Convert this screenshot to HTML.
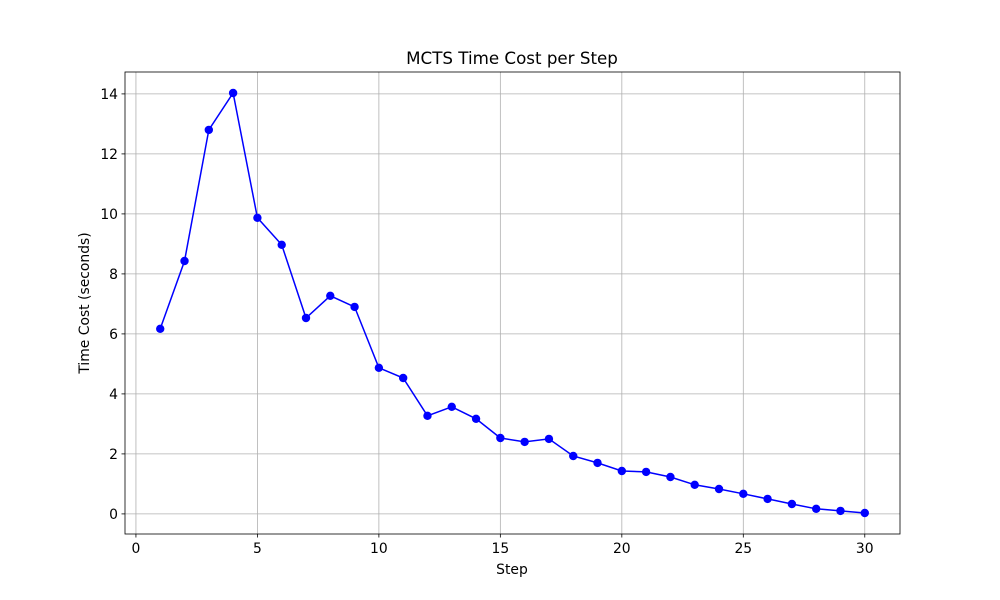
<!DOCTYPE html>
<html><head><meta charset="utf-8"><style>
body{margin:0;background:#fff;}
svg{display:block;font-family:"DejaVu Sans","Liberation Sans",sans-serif;}
</style></head><body>
<svg id="chart" width="1000" height="600" viewBox="0 0 1000 600">
<rect width="1000" height="600" fill="#fff"/>
<g id="grid"></g>
<g id="axes"></g>
<g id="series"></g>
<text x="512" y="64" text-anchor="middle" font-size="16.7">MCTS Time Cost per Step</text>
<text x="512" y="574" text-anchor="middle" font-size="13.9">Step</text>
<text transform="translate(89,303) rotate(-90)" text-anchor="middle" font-size="13.9">Time Cost (seconds)</text>
</svg>
<script>
const steps=[1,2,3,4,5,6,7,8,9,10,11,12,13,14,15,16,17,18,19,20,21,22,23,24,25,26,27,28,29,30];
const times=[6.17,8.43,12.8,14.03,9.87,8.97,6.53,7.27,6.9,4.87,4.53,3.27,3.57,3.17,2.53,2.4,2.5,1.93,1.7,1.43,1.4,1.23,0.97,0.83,0.67,0.5,0.33,0.17,0.1,0.03];
const xTicks=[0,5,10,15,20,25,30];
const yTicks=[0,2,4,6,8,10,12,14];
const NS='http://www.w3.org/2000/svg';
const L=125,R=900,T=72,B=534;
const xmin=Math.min(...steps),xmax=Math.max(...steps),xm=(xmax-xmin)*0.05;
const ymin=Math.min(...times),ymax=Math.max(...times),ym=(ymax-ymin)*0.05;
const X=v=>L+(v-(xmin-xm))/((xmax+xm)-(xmin-xm))*(R-L);
const Y=v=>B-(v-(ymin-ym))/((ymax+ym)-(ymin-ym))*(B-T);
function mk(tag,attrs,parent){const e=document.createElementNS(NS,tag);for(const k in attrs)e.setAttribute(k,attrs[k]);parent.appendChild(e);return e;}
const grid=document.getElementById('grid'),axes=document.getElementById('axes'),series=document.getElementById('series');
xTicks.forEach(t=>{const x=X(t);
 const g=mk('line',{x1:x,x2:x,y1:T,y2:B,stroke:'#b0b0b0','stroke-width':0.8},grid);
 
 mk('line',{x1:x,x2:x,y1:B,y2:B+3.5,stroke:'#000','stroke-width':0.8},axes);
 const tx=mk('text',{x:x,y:B+19,'text-anchor':'middle','font-size':13.9},axes);tx.textContent=t;
 });
yTicks.forEach(t=>{const y=Y(t);
 const g=mk('line',{x1:L,x2:R,y1:y,y2:y,stroke:'#b0b0b0','stroke-width':0.8},grid);
 
 mk('line',{x1:L-3.5,x2:L,y1:y,y2:y,stroke:'#000','stroke-width':0.8},axes);
 const tx=mk('text',{x:L-7,y:y+5,'text-anchor':'end','font-size':13.9},axes);tx.textContent=t;
 });
const frame=mk('rect',{x:L,y:T,width:R-L,height:B-T,fill:'none',stroke:'#000','stroke-width':0.8},axes);

const pl=mk('polyline',{points:steps.map((s,i)=>X(s)+','+Y(times[i])).join(' '),fill:'none',stroke:'#0000ff','stroke-width':1.5},series);

steps.forEach((s,i)=>{const c=mk('circle',{cx:X(s),cy:Y(times[i]),r:4.2,fill:'#0000ff'},series);
 });
</script>
</body></html>
